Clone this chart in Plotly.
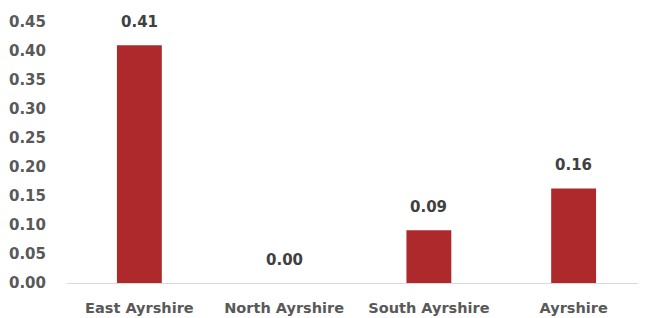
import plotly.graph_objects as go

categories = ["East Ayrshire", "North Ayrshire", "South Ayrshire", "Ayrshire"]
values = [0.41, 0.00, 0.091, 0.163]
tick_vals = [0.0, 0.05, 0.10, 0.15, 0.20, 0.25, 0.30, 0.35, 0.40, 0.45]

font_family = "'DejaVu Sans', sans-serif"

fig = go.Figure(go.Bar(
    x=categories,
    y=values,
    marker=dict(color="#AD292B", line=dict(width=0)),
    width=0.31,
    hoverinfo="x+y",
))

for c, v in zip(categories, values):
    fig.add_annotation(
        x=c, y=v, text=f"{v:.2f}", showarrow=False,
        yanchor="middle", yshift=23,
        font=dict(family=font_family, size=15, color="#404040", weight="bold"),
    )

fig.update_layout(
    width=638, height=310,
    margin=dict(l=59, r=0, t=14, b=35),
    paper_bgcolor="white", plot_bgcolor="white",
    showlegend=False,
    xaxis=dict(
        showline=True, linecolor="#D9D9D9", linewidth=1,
        showgrid=False, ticks="",
        ticklabelstandoff=12,
        tickfont=dict(family=font_family, size=14.5, color="#595959", weight="bold"),
        range=[-0.5, 3.5],
    ),
    yaxis=dict(
        range=[0, 0.45],
        tickvals=tick_vals,
        tickformat=".2f",
        showgrid=False, showline=False, zeroline=False,
        ticks="",
        ticklabelstandoff=20,
        tickfont=dict(family=font_family, size=15, color="#595959", weight="bold"),
    ),
)

fig.write_html("out.html")
